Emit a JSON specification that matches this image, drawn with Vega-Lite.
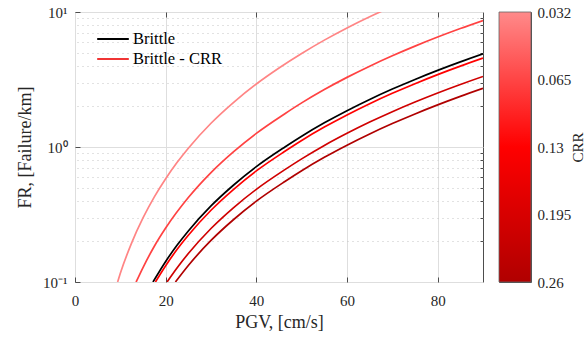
{
  "$schema": "https://vega.github.io/schema/vega-lite/v6.json",
  "background": "white",
  "padding": {"left": 16, "top": 4, "right": 0, "bottom": 0},
  "spacing": 14,
  "config": {
    "font": "Liberation Serif, serif",
    "view": {"stroke": "#4d4d4d", "strokeWidth": 1},
    "axis": {"labelFont": "Liberation Serif, serif", "titleFont": "Liberation Serif, serif", "labelFontSize": 15, "titleFontSize": 18, "labelColor": "#262626", "titleColor": "#262626", "titleFontWeight": "normal", "labelFlush": false, "labelOverlap": false, "tickColor": "#4d4d4d", "tickWidth": 1},
    "legend": {"labelFont": "Liberation Serif, serif", "labelFontSize": 16.5, "labelColor": "#000000"}
  },
  "datasets": {
    "curves": [
      {"type": "Brittle", "crr": "none", "pgv": 17.2, "fr": 0.1},
      {"type": "Brittle", "crr": "none", "pgv": 20, "fr": 0.142},
      {"type": "Brittle", "crr": "none", "pgv": 22.5, "fr": 0.187},
      {"type": "Brittle", "crr": "none", "pgv": 25, "fr": 0.239},
      {"type": "Brittle", "crr": "none", "pgv": 30, "fr": 0.366},
      {"type": "Brittle", "crr": "none", "pgv": 35, "fr": 0.523},
      {"type": "Brittle", "crr": "none", "pgv": 40, "fr": 0.715},
      {"type": "Brittle", "crr": "none", "pgv": 46.3, "fr": 1.0},
      {"type": "Brittle", "crr": "none", "pgv": 50, "fr": 1.202},
      {"type": "Brittle", "crr": "none", "pgv": 55, "fr": 1.51},
      {"type": "Brittle", "crr": "none", "pgv": 60, "fr": 1.858},
      {"type": "Brittle", "crr": "none", "pgv": 65, "fr": 2.25},
      {"type": "Brittle", "crr": "none", "pgv": 70, "fr": 2.686},
      {"type": "Brittle", "crr": "none", "pgv": 75, "fr": 3.167},
      {"type": "Brittle", "crr": "none", "pgv": 80, "fr": 3.696},
      {"type": "Brittle", "crr": "none", "pgv": 85, "fr": 4.272},
      {"type": "Brittle", "crr": "none", "pgv": 90, "fr": 4.898},

      {"type": "Brittle - CRR", "crr": "0.032", "pgv": 9.4, "fr": 0.1},
      {"type": "Brittle - CRR", "crr": "0.032", "pgv": 10, "fr": 0.116},
      {"type": "Brittle - CRR", "crr": "0.032", "pgv": 12.5, "fr": 0.195},
      {"type": "Brittle - CRR", "crr": "0.032", "pgv": 15, "fr": 0.298},
      {"type": "Brittle - CRR", "crr": "0.032", "pgv": 17.5, "fr": 0.427},
      {"type": "Brittle - CRR", "crr": "0.032", "pgv": 20, "fr": 0.582},
      {"type": "Brittle - CRR", "crr": "0.032", "pgv": 22.5, "fr": 0.767},
      {"type": "Brittle - CRR", "crr": "0.032", "pgv": 25, "fr": 0.98},
      {"type": "Brittle - CRR", "crr": "0.032", "pgv": 30, "fr": 1.5},
      {"type": "Brittle - CRR", "crr": "0.032", "pgv": 35, "fr": 2.144},
      {"type": "Brittle - CRR", "crr": "0.032", "pgv": 40, "fr": 2.93},
      {"type": "Brittle - CRR", "crr": "0.032", "pgv": 45, "fr": 3.85},
      {"type": "Brittle - CRR", "crr": "0.032", "pgv": 50, "fr": 4.93},
      {"type": "Brittle - CRR", "crr": "0.032", "pgv": 55, "fr": 6.19},
      {"type": "Brittle - CRR", "crr": "0.032", "pgv": 60, "fr": 7.62},
      {"type": "Brittle - CRR", "crr": "0.032", "pgv": 65, "fr": 9.22},
      {"type": "Brittle - CRR", "crr": "0.032", "pgv": 70, "fr": 11.0},

      {"type": "Brittle - CRR", "crr": "0.065", "pgv": 13.48, "fr": 0.1},
      {"type": "Brittle - CRR", "crr": "0.065", "pgv": 15, "fr": 0.128},
      {"type": "Brittle - CRR", "crr": "0.065", "pgv": 17.5, "fr": 0.184},
      {"type": "Brittle - CRR", "crr": "0.065", "pgv": 20, "fr": 0.251},
      {"type": "Brittle - CRR", "crr": "0.065", "pgv": 25, "fr": 0.422},
      {"type": "Brittle - CRR", "crr": "0.065", "pgv": 30, "fr": 0.646},
      {"type": "Brittle - CRR", "crr": "0.065", "pgv": 35, "fr": 0.923},
      {"type": "Brittle - CRR", "crr": "0.065", "pgv": 40, "fr": 1.262},
      {"type": "Brittle - CRR", "crr": "0.065", "pgv": 46.3, "fr": 1.765},
      {"type": "Brittle - CRR", "crr": "0.065", "pgv": 50, "fr": 2.122},
      {"type": "Brittle - CRR", "crr": "0.065", "pgv": 55, "fr": 2.665},
      {"type": "Brittle - CRR", "crr": "0.065", "pgv": 60, "fr": 3.279},
      {"type": "Brittle - CRR", "crr": "0.065", "pgv": 65, "fr": 3.971},
      {"type": "Brittle - CRR", "crr": "0.065", "pgv": 70, "fr": 4.741},
      {"type": "Brittle - CRR", "crr": "0.065", "pgv": 75, "fr": 5.59},
      {"type": "Brittle - CRR", "crr": "0.065", "pgv": 80, "fr": 6.523},
      {"type": "Brittle - CRR", "crr": "0.065", "pgv": 85, "fr": 7.54},
      {"type": "Brittle - CRR", "crr": "0.065", "pgv": 90, "fr": 8.645},

      {"type": "Brittle - CRR", "crr": "0.13", "pgv": 17.74, "fr": 0.1},
      {"type": "Brittle - CRR", "crr": "0.13", "pgv": 20, "fr": 0.132},
      {"type": "Brittle - CRR", "crr": "0.13", "pgv": 22.5, "fr": 0.174},
      {"type": "Brittle - CRR", "crr": "0.13", "pgv": 25, "fr": 0.222},
      {"type": "Brittle - CRR", "crr": "0.13", "pgv": 30, "fr": 0.34},
      {"type": "Brittle - CRR", "crr": "0.13", "pgv": 35, "fr": 0.486},
      {"type": "Brittle - CRR", "crr": "0.13", "pgv": 40, "fr": 0.665},
      {"type": "Brittle - CRR", "crr": "0.13", "pgv": 46.3, "fr": 0.93},
      {"type": "Brittle - CRR", "crr": "0.13", "pgv": 50, "fr": 1.118},
      {"type": "Brittle - CRR", "crr": "0.13", "pgv": 55, "fr": 1.404},
      {"type": "Brittle - CRR", "crr": "0.13", "pgv": 60, "fr": 1.728},
      {"type": "Brittle - CRR", "crr": "0.13", "pgv": 65, "fr": 2.093},
      {"type": "Brittle - CRR", "crr": "0.13", "pgv": 70, "fr": 2.498},
      {"type": "Brittle - CRR", "crr": "0.13", "pgv": 75, "fr": 2.945},
      {"type": "Brittle - CRR", "crr": "0.13", "pgv": 80, "fr": 3.437},
      {"type": "Brittle - CRR", "crr": "0.13", "pgv": 85, "fr": 3.973},
      {"type": "Brittle - CRR", "crr": "0.13", "pgv": 90, "fr": 4.555},

      {"type": "Brittle - CRR", "crr": "0.195", "pgv": 20.3, "fr": 0.1},
      {"type": "Brittle - CRR", "crr": "0.195", "pgv": 22.5, "fr": 0.127},
      {"type": "Brittle - CRR", "crr": "0.195", "pgv": 25, "fr": 0.1625},
      {"type": "Brittle - CRR", "crr": "0.195", "pgv": 30, "fr": 0.249},
      {"type": "Brittle - CRR", "crr": "0.195", "pgv": 35, "fr": 0.356},
      {"type": "Brittle - CRR", "crr": "0.195", "pgv": 40, "fr": 0.486},
      {"type": "Brittle - CRR", "crr": "0.195", "pgv": 46.3, "fr": 0.68},
      {"type": "Brittle - CRR", "crr": "0.195", "pgv": 50, "fr": 0.817},
      {"type": "Brittle - CRR", "crr": "0.195", "pgv": 55, "fr": 1.027},
      {"type": "Brittle - CRR", "crr": "0.195", "pgv": 60, "fr": 1.263},
      {"type": "Brittle - CRR", "crr": "0.195", "pgv": 65, "fr": 1.53},
      {"type": "Brittle - CRR", "crr": "0.195", "pgv": 70, "fr": 1.826},
      {"type": "Brittle - CRR", "crr": "0.195", "pgv": 75, "fr": 2.154},
      {"type": "Brittle - CRR", "crr": "0.195", "pgv": 80, "fr": 2.513},
      {"type": "Brittle - CRR", "crr": "0.195", "pgv": 85, "fr": 2.905},
      {"type": "Brittle - CRR", "crr": "0.195", "pgv": 90, "fr": 3.331},

      {"type": "Brittle - CRR", "crr": "0.26", "pgv": 22.15, "fr": 0.1},
      {"type": "Brittle - CRR", "crr": "0.26", "pgv": 25, "fr": 0.1326},
      {"type": "Brittle - CRR", "crr": "0.26", "pgv": 30, "fr": 0.2031},
      {"type": "Brittle - CRR", "crr": "0.26", "pgv": 35, "fr": 0.2903},
      {"type": "Brittle - CRR", "crr": "0.26", "pgv": 40, "fr": 0.3968},
      {"type": "Brittle - CRR", "crr": "0.26", "pgv": 46.3, "fr": 0.555},
      {"type": "Brittle - CRR", "crr": "0.26", "pgv": 50, "fr": 0.667},
      {"type": "Brittle - CRR", "crr": "0.26", "pgv": 55, "fr": 0.838},
      {"type": "Brittle - CRR", "crr": "0.26", "pgv": 60, "fr": 1.031},
      {"type": "Brittle - CRR", "crr": "0.26", "pgv": 65, "fr": 1.249},
      {"type": "Brittle - CRR", "crr": "0.26", "pgv": 70, "fr": 1.491},
      {"type": "Brittle - CRR", "crr": "0.26", "pgv": 75, "fr": 1.758},
      {"type": "Brittle - CRR", "crr": "0.26", "pgv": 80, "fr": 2.051},
      {"type": "Brittle - CRR", "crr": "0.26", "pgv": 85, "fr": 2.371},
      {"type": "Brittle - CRR", "crr": "0.26", "pgv": 90, "fr": 2.718}
    ],
    "colorbar": [{"top": 0, "bottom": 0.26}]
  },
  "hconcat": [
    {
      "width": 408,
      "height": 270,
      "data": {"name": "curves"},
      "layer": [
        {
          "transform": [{"filter": "datum.type == 'Brittle'"}],
          "mark": {"type": "line", "strokeWidth": 1.7, "clip": true, "interpolate": "monotone"},
          "encoding": {
            "x": {"field": "pgv", "type": "quantitative", "scale": {"domain": [0, 90], "nice": false, "zero": false},
              "axis": {"title": "PGV, [cm/s]", "values": [0, 20, 40, 60, 80], "format": "d", "grid": true, "gridColor": "#dedede", "gridWidth": 1, "ticks": true, "tickSize": -5, "domain": false, "labelPadding": 16, "titlePadding": 5}},
            "y": {"field": "fr", "type": "quantitative", "scale": {"type": "log", "domain": [0.1, 10], "nice": false},
              "axis": {"title": "FR, [Failure/km]", "values": [0.1, 1, 10], "labelExpr": "datum.value == 10 ? '10¹' : datum.value == 1 ? '10⁰' : '10⁻¹'", "grid": true, "gridColor": "#dedede", "gridWidth": 1, "ticks": true, "tickSize": -5, "domain": false, "labelPadding": 13, "titlePadding": 8}},
            "color": {"field": "type", "type": "nominal", "scale": {"domain": ["Brittle", "Brittle - CRR"], "range": ["#000000", "#f03535"]},
              "legend": {"title": null, "orient": "none", "legendX": 21, "legendY": 18, "symbolType": "stroke", "symbolSize": 1000, "symbolStrokeWidth": 2, "clipHeight": 18, "rowPadding": 2, "labelOffset": 3, "padding": 0, "labelFontSize": 16.5}},
            "order": {"field": "pgv", "type": "quantitative"}
          }
        },
        {
          "transform": [{"filter": "datum.type == 'Brittle - CRR'"}],
          "mark": {"type": "line", "strokeWidth": 1.7, "clip": true, "interpolate": "monotone"},
          "encoding": {
            "x": {"field": "pgv", "type": "quantitative",
              "axis": {"orient": "top", "title": null, "values": [20, 40, 60, 80], "labels": false, "grid": false, "domain": false, "ticks": true, "tickSize": -5}},
            "y": {"field": "fr", "type": "quantitative",
              "axis": {"orient": "right", "title": null, "values": [0.2, 0.3, 0.4, 0.5, 0.6, 0.7, 0.8, 0.9, 2, 3, 4, 5, 6, 7, 8, 9], "labels": false, "ticks": true, "tickSize": -3, "domain": false, "grid": true, "gridColor": "#c4c4c4", "gridDash": [1, 4], "gridWidth": 1}},
            "color": {"field": "crr", "type": "nominal", "scale": {"domain": ["0.032", "0.065", "0.13", "0.195", "0.26"], "range": ["#ff8585", "#ff4242", "#ff0000", "#d00000", "#b00000"]}, "legend": null},
            "detail": {"field": "crr"},
            "order": {"field": "pgv", "type": "quantitative"}
          }
        }
      ],
      "resolve": {"scale": {"color": "independent"}, "axis": {"x": "independent", "y": "independent"}}
    },
    {
      "width": 32,
      "height": 270,
      "data": {"name": "colorbar"},
      "mark": {"type": "rect", "fill": {"gradient": "linear", "x1": 0, "y1": 0, "x2": 0, "y2": 1, "stops": [{"offset": 0, "color": "#ff8a8a"}, {"offset": 0.5, "color": "#ff0000"}, {"offset": 1, "color": "#b00000"}]}, "stroke": "#666666", "strokeWidth": 0.8},
      "encoding": {
        "y": {"field": "top", "type": "quantitative", "scale": {"domain": [0, 0.26], "reverse": true, "nice": false, "zero": false},
          "axis": {"orient": "right", "title": "CRR", "titleAngle": 270, "titleBaseline": "top", "values": [0, 0.065, 0.13, 0.195, 0.26], "labelExpr": "datum.value == 0 ? '0.032' : format(datum.value, '.3~f')", "grid": false, "ticks": false, "domain": false, "labelPadding": 6, "titlePadding": 0, "titleFontSize": 15}},
        "y2": {"field": "bottom"}
      }
    }
  ]
}
